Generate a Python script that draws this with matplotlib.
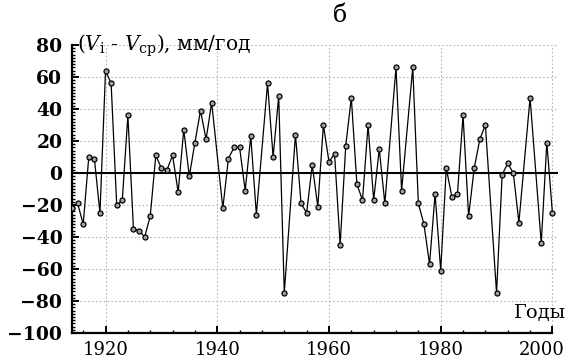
import numpy as np
import matplotlib.pyplot as plt
from matplotlib.ticker import MultipleLocator
from matplotlib.transforms import ScaledTranslation

plt.rcParams['font.family'] = ['DejaVu Serif']
plt.rcParams['mathtext.fontset'] = 'dejavuserif'

# years with data (some years are missing in the source series)
years = [1914, 1915, 1916, 1917, 1918, 1919, 1920, 1921, 1922, 1923,
         1924, 1925, 1926, 1927, 1928, 1929, 1930, 1931, 1932, 1933,
         1934, 1935, 1936, 1937, 1938, 1939, 1941, 1942, 1943, 1944,
         1945, 1946, 1947, 1949, 1950, 1951, 1952, 1954, 1955, 1956,
         1957, 1958, 1959, 1960, 1961, 1962, 1963, 1964, 1965, 1966,
         1967, 1968, 1969, 1970, 1972, 1973, 1975, 1976, 1977, 1978,
         1979, 1980, 1981, 1982, 1983, 1984, 1985, 1986, 1987, 1988,
         1990, 1991, 1992, 1993, 1994, 1996, 1998, 1999, 2000]
dv = [-22, -19, -32, 10, 9, -25, 64, 56, -20, -17,
      36, -35, -36, -40, -27, 11, 3, 2, 11, -12,
      27, -2, 19, 39, 21, 44, -22, 9, 16, 16,
      -11, 23, -26, 56, 10, 48, -75, 24, -19, -25,
      5, -21, 30, 7, 12, -45, 17, 47, -7, -17,
      30, -17, 15, -19, 66, -11, 66, -19, -32, -57,
      -13, -61, 3, -15, -13, 36, -27, 3, 21, 30,
      -75, -1, 6, 0, -31, 47, -44, 19, -25]

fig = plt.figure(figsize=(5.68, 3.61), dpi=100)
ax = fig.add_axes([0.1268, 0.0776, 0.8556, 0.7978])

ax.axhline(0, color='black', lw=1.5, zorder=2)
ax.plot(years, dv, color='black', lw=0.9, marker='o', ms=3.6,
        mfc='#a0a0a0', mec='black', mew=0.9, zorder=3)

ax.set_xlim(1914, 2001)
ax.set_ylim(-100, 80)
ax.xaxis.set_major_locator(MultipleLocator(20))
ax.xaxis.set_minor_locator(MultipleLocator(4))
ax.yaxis.set_major_locator(MultipleLocator(20))
ax.yaxis.set_minor_locator(MultipleLocator(2))
ax.grid(True, which='major', color='#b5b5b5', ls=(0, (1.5, 2)), lw=0.8)

for s in ['top', 'right']:
    ax.spines[s].set_visible(False)
for s in ['left', 'bottom']:
    ax.spines[s].set_linewidth(1.6)
ax.spines['bottom'].set_bounds(1914, 2000)

ax.tick_params(which='major', direction='in', length=5, width=1.4)
ax.tick_params(which='minor', direction='in', length=2.5, width=1.0)
ax.tick_params(axis='y', labelsize=13.5, pad=7)
ax.tick_params(axis='x', labelsize=13, pad=6)
for lab in ax.get_yticklabels():
    lab.set_fontweight('bold')

# last year label is pulled left so it stays inside the figure
fig.canvas.draw()
last = [t for t in ax.get_xticklabels() if t.get_text() == '2000'][0]
last.set_transform(last.get_transform() + ScaledTranslation(-0.11, 0, fig.dpi_scale_trans))

fig.text(0.598, 0.958, 'б', fontsize=17, ha='center', va='center')
fig.text(0.136, 0.872, r'$(V_{\mathrm{i}}$ - $V_{\mathrm{ср}}$), мм/год',
         fontsize=14.5, ha='left', va='center')
fig.text(0.997, 0.133, 'Годы', fontsize=14, ha='right', va='center')

fig.savefig('out.png', dpi=100)
